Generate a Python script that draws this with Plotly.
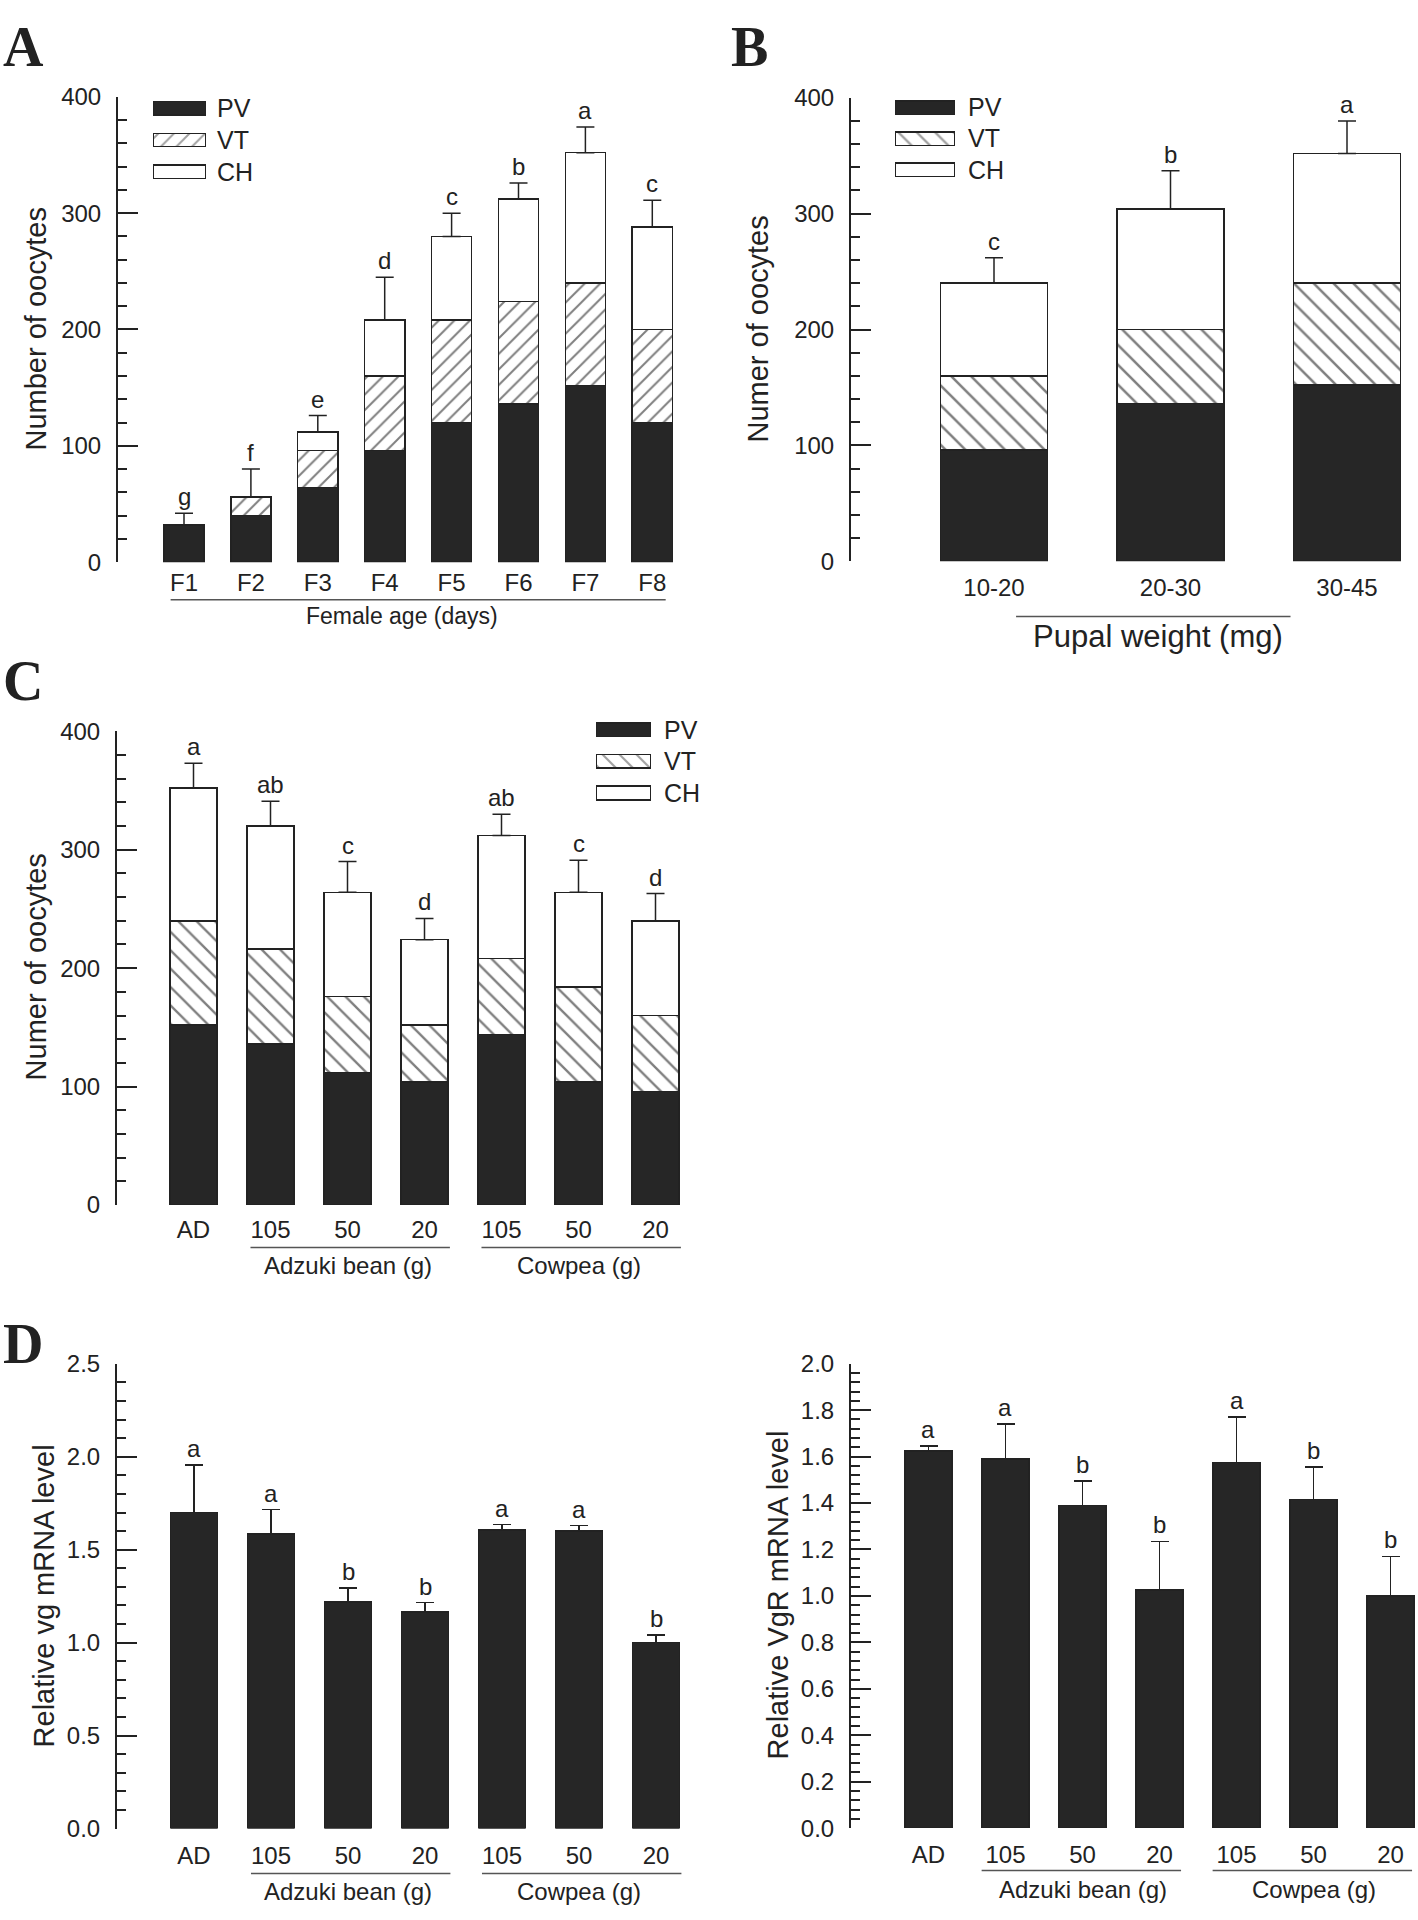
import plotly.graph_objects as go

W, H = 1418, 1920
FONT = "Liberation Sans"
SERIF = "Liberation Serif"
INK = "#222222"
BAR = "#262626"

# ---- data ----
stage_names = ["PV", "VT", "CH"]

# A: oocytes per stage by female age (stack segments)
age_labels = ["F1", "F2", "F3", "F4", "F5", "F6", "F7", "F8"]
age_pv = [32, 40, 64, 96, 120, 136, 152, 120]
age_vt = [0, 16, 32, 64, 88, 88, 88, 80]
age_ch = [0, 0, 16, 48, 72, 88, 112, 88]
age_err = [10, 24, 14, 37, 20, 14, 22, 23]
age_sig = ["g", "f", "e", "d", "c", "b", "a", "c"]

# B: by pupal weight
weight_labels = ["10-20", "20-30", "30-45"]
weight_pv = [96, 136, 152]
weight_vt = [64, 64, 88]
weight_ch = [80, 104, 112]
weight_err = [22, 33, 28]
weight_sig = ["c", "b", "a"]

# C: by diet
diet_labels = ["AD", "105", "50", "20", "105", "50", "20"]
diet_groups = [("Adzuki bean (g)", 1, 3), ("Cowpea (g)", 4, 6)]
diet_pv = [152, 136, 112, 104, 144, 104, 96]
diet_vt = [88, 80, 64, 48, 64, 80, 64]
diet_ch = [112, 104, 88, 72, 104, 80, 80]
diet_err = [21, 21, 26, 18, 18, 27, 23]
diet_sig = ["a", "ab", "c", "d", "ab", "c", "d"]

# D: relative expression
vg_level = [1.70, 1.585, 1.22, 1.165, 1.605, 1.60, 1.00]
vg_err = [0.255, 0.13, 0.075, 0.05, 0.03, 0.03, 0.04]
vg_sig = ["a", "a", "b", "b", "a", "a", "b"]
vgr_level = [1.625, 1.59, 1.39, 1.025, 1.575, 1.415, 1.00]
vgr_err = [0.02, 0.15, 0.105, 0.21, 0.195, 0.14, 0.17]
vgr_sig = ["a", "a", "b", "b", "a", "b", "b"]


def xd(a, b):
    return [a / W, b / W]


def yd(top, bot):
    return [1 - bot / H, 1 - top / H]


def py(p):
    return 1 - p / H


def ax_names(i):
    return ("x", "y") if i == 1 else (f"x{i}", f"y{i}")


def lay_key(kind, i):
    return kind if i == 1 else f"{kind}{i}"


fig = go.Figure()


def panel_axes(i, ticktext, axis_px, c0, step, right_px, top, bot,
               ymax, dtick, minor_dtick, fmt, label_gap):
    xa, ya = ax_names(i)
    fig.update_layout({
        lay_key("xaxis", i): dict(
            domain=xd(axis_px, right_px),
            range=[(axis_px - c0) / step, (right_px - c0) / step],
            anchor=ya, tickmode="array", tickvals=list(range(len(ticktext))),
            ticktext=ticktext, showline=False, ticks="", showgrid=False,
            zeroline=False, ticklabelstandoff=label_gap,
            tickfont=dict(family=FONT, size=24, color=INK)),
        lay_key("yaxis", i): dict(
            domain=yd(top, bot), range=[0, ymax], anchor=xa,
            tick0=0, dtick=dtick, tickformat=fmt,
            showline=True, linecolor=INK, linewidth=2,
            ticks="inside", ticklen=20, tickwidth=2, tickcolor=INK,
            minor=dict(dtick=minor_dtick, ticks="inside", ticklen=9,
                       tickwidth=2, tickcolor=INK, showgrid=False),
            showgrid=False, zeroline=False, ticklabelstandoff=10,
            tickfont=dict(family=FONT, size=24, color=INK)),
    })


def sig_letters(i, tops, sig):
    xa, ya = ax_names(i)
    for x, t, s in zip(range(len(tops)), tops, sig):
        fig.add_annotation(x=x, y=t, xref=xa, yref=ya, text=s, showarrow=False,
                           yanchor="bottom", yshift=1,
                           font=dict(family=FONT, size=24, color=INK))


def stacked(i, pv, vt, ch, err, sig, width, hatch, hatch_size):
    xa, ya = ax_names(i)
    xs = list(range(len(pv)))
    edge = dict(color=INK, width=1.5)
    fig.add_trace(go.Bar(x=xs, y=pv, width=width, xaxis=xa, yaxis=ya,
                         marker=dict(color=BAR, line=edge)))
    fig.add_trace(go.Bar(x=xs, y=vt, width=width, xaxis=xa, yaxis=ya,
                         marker=dict(color="white", line=edge,
                                     pattern=dict(shape=hatch, fgcolor="black", bgcolor="white",
                                                  size=hatch_size, solidity=0.18))))
    fig.add_trace(go.Bar(x=xs, y=ch, width=width, xaxis=xa, yaxis=ya,
                         marker=dict(color="white", line=edge)))
    totals = [a + b + c for a, b, c in zip(pv, vt, ch)]
    fig.add_trace(go.Scatter(x=xs, y=totals, mode="markers", xaxis=xa, yaxis=ya,
                             marker=dict(size=1, color="rgba(0,0,0,0)"),
                             error_y=dict(type="data", symmetric=False, array=err,
                                          arrayminus=[0] * len(err), color=INK,
                                          thickness=1.5, width=9)))
    sig_letters(i, [t + e for t, e in zip(totals, err)], sig)


def single(i, vals, err, sig, width):
    xa, ya = ax_names(i)
    xs = list(range(len(vals)))
    fig.add_trace(go.Bar(x=xs, y=vals, width=width, xaxis=xa, yaxis=ya,
                         marker=dict(color=BAR, line=dict(color=INK, width=1.5)),
                         error_y=dict(type="data", symmetric=False, array=err,
                                      arrayminus=[0] * len(err), color=INK,
                                      thickness=1.5, width=9)))
    sig_letters(i, [v + e for v, e in zip(vals, err)], sig)


def stage_key(i, x0, x1, row0, row_step, rect_h, hatch, hatch_size, gap):
    xa, ya = ax_names(i)
    fig.update_layout({
        lay_key("xaxis", i): dict(domain=xd(x0, x1), range=[0, 1], visible=False, anchor=ya),
        lay_key("yaxis", i): dict(domain=yd(row0 - row_step / 2, row0 + 2.5 * row_step),
                                  anchor=xa, type="category", range=[2.5, -0.5],
                                  side="right", showline=False, ticks="", showgrid=False,
                                  zeroline=False, ticklabelstandoff=gap,
                                  tickfont=dict(family=FONT, size=25, color=INK)),
    })
    fig.add_trace(go.Bar(x=[1, 1, 1], y=stage_names, orientation="h",
                         width=rect_h / row_step, xaxis=xa, yaxis=ya,
                         marker=dict(color=[BAR, "white", "white"],
                                     line=dict(color=INK, width=1.5),
                                     pattern=dict(shape=["", hatch, ""], fgcolor="black",
                                                  bgcolor="white", size=hatch_size,
                                                  solidity=0.18))))


def group_label(i, text, x0, x1, xt, y_line, y_text, size):
    xa, _ = ax_names(i)
    fig.add_shape(type="line", xref=xa, yref="paper", x0=x0, x1=x1,
                  y0=py(y_line), y1=py(y_line), line=dict(color="#555555", width=1.5))
    fig.add_annotation(x=xt, y=py(y_text), xref=xa, yref="paper", text=text,
                       showarrow=False, yanchor="middle",
                       font=dict(family=FONT, size=size, color=INK))


def text_px(text, x, y, size, angle=0, family=FONT, xanchor="center", yanchor="middle"):
    fig.add_annotation(x=x / W, y=py(y), xref="paper", yref="paper", text=text,
                       showarrow=False, textangle=angle, xanchor=xanchor,
                       yanchor=yanchor, font=dict(family=family, size=size, color=INK))


def panel_tag(letter, x, top):
    text_px(f"<b>{letter}</b>", x, top, 56, family=SERIF, xanchor="left", yanchor="top")


# ---- panel A ----
panel_axes(1, age_labels, 118, 184, 66.9, 700, 84, 556, 400, 100, 20, "d", 4)
stacked(1, age_pv, age_vt, age_ch, age_err, age_sig, 0.6, "/", 11)
group_label(1, "Female age (days)", -0.2, 7.2, 3.26, 594, 611, 23)
stage_key(6, 153, 206, 95.5, 32.3, 13.5, "/", 11, 10)
text_px("Number of oocytes", 36, 320, 29, -90)
panel_tag("A", 1, 0)

# ---- panel B ----
panel_axes(2, weight_labels, 851, 994, 176.5, 1418, 85, 555, 400, 100, 20, "d", 10)
stacked(2, weight_pv, weight_vt, weight_ch, weight_err, weight_sig, 0.606, "\\", 14)
group_label(2, "Pupal weight (mg)", 0.125, 1.68, 0.93, 611, 631, 31)
stage_key(7, 895, 955, 95, 31.5, 14, "\\", 13, 12)
text_px("Numer of oocytes", 758, 319, 29, -90)
panel_tag("B", 729, 0)

# ---- panel C ----
panel_axes(3, diet_labels, 117, 193.5, 77, 700, 727.5, 1208, 400, 100, 20, "d", 8)
stacked(3, diet_pv, diet_vt, diet_ch, diet_err, diet_sig, 0.61, "\\", 13)
for name, a, b in diet_groups:
    group_label(3, name, a - 0.26, b + 0.33, (a + b) / 2, 1251, 1269, 24)
stage_key(8, 596, 651, 726, 32, 14, "\\", 12, 12)
text_px("Numer of oocytes", 36, 967, 29, -90)
panel_tag("C", 1, 643)

# ---- panel D ----
panel_axes(4, diet_labels, 117, 194, 77, 700, 1369, 1840.5, 2.5, 0.5, 0.1, ".1f", 10)
single(4, vg_level, vg_err, vg_sig, 0.61)
for name, a, b in diet_groups:
    group_label(4, name, a - 0.26, b + 0.33, (a + b) / 2, 1886, 1904, 24)
text_px("Relative vg mRNA level", 44, 1605, 29, -90)
panel_tag("D", 1, 1315)

panel_axes(5, diet_labels, 851, 928.5, 77, 1418, 1369, 1840, 2.0, 0.2, 0.04, ".1f", 10)
single(5, vgr_level, vgr_err, vgr_sig, 0.61)
for name, a, b in diet_groups:
    group_label(5, name, a - 0.31, b + 0.28, (a + b) / 2, 1883, 1902, 24)
text_px("Relative VgR mRNA level", 778, 1604, 29, -90)

fig.update_traces(showlegend=False, hoverinfo="skip")
fig.update_layout(
    width=W, height=H, autosize=False,
    margin=dict(l=0, r=0, t=0, b=0),
    paper_bgcolor="white", plot_bgcolor="white",
    barmode="stack", showlegend=False,
    font=dict(family=FONT, color=INK),
)

fig.write_html("out.html", config={"displayModeBar": False},
               post_script="document.body.style.margin='0';")
